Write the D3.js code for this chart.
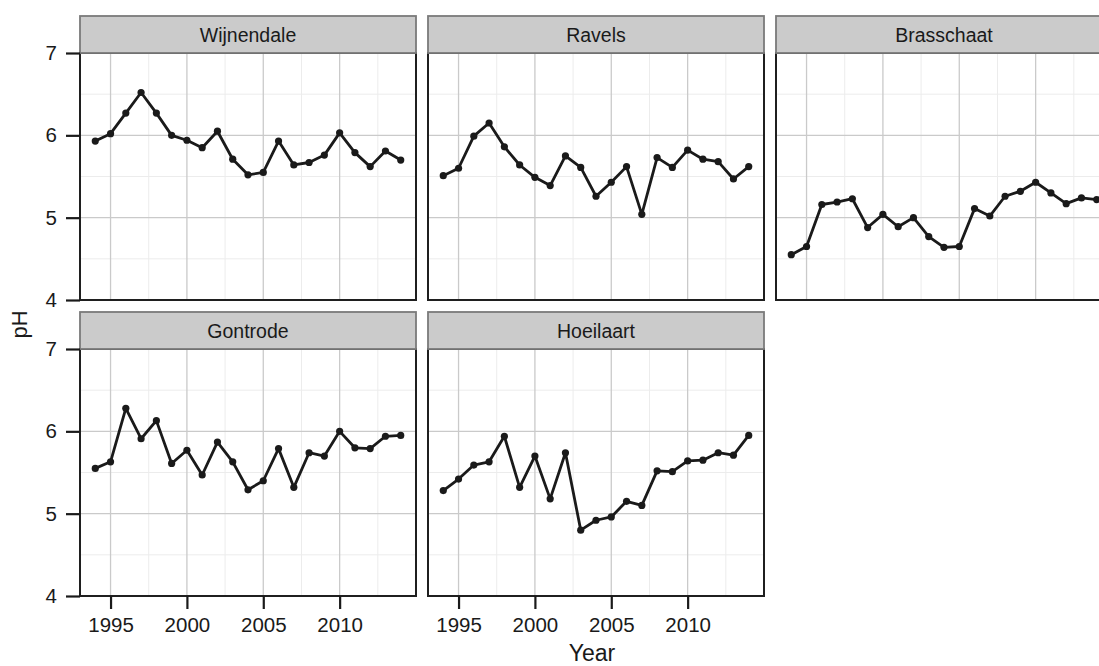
<!DOCTYPE html>
<html lang="en">
<head>
    <meta charset="UTF-8">
    <title>pH per site</title>
    <script src="https://d3js.org/d3.v7.min.js"></script>
    <style>
        body {
            margin: 0;
            background: #fff;
            font-family: "Liberation Sans", Arial, sans-serif;
        }
    </style>
</head>
<body>
<div id="my_dataviz"></div>
<script>
    // data, one array per site
    var years = [1994, 1995, 1996, 1997, 1998, 1999, 2000, 2001, 2002, 2003, 2004,
                 2005, 2006, 2007, 2008, 2009, 2010, 2011, 2012, 2013, 2014];
    var sites = ["Wijnendale", "Ravels", "Brasschaat", "Gontrode", "Hoeilaart"];

    var wijnendale = [5.93, 6.02, 6.27, 6.52, 6.27, 6.00, 5.94, 5.85, 6.05, 5.71, 5.52,
                      5.55, 5.93, 5.64, 5.67, 5.76, 6.03, 5.79, 5.62, 5.81, 5.70];
    var ravels     = [5.51, 5.60, 5.99, 6.15, 5.86, 5.64, 5.49, 5.39, 5.75, 5.61, 5.26,
                      5.43, 5.62, 5.04, 5.73, 5.61, 5.82, 5.71, 5.68, 5.47, 5.62];
    var brasschaat = [4.55, 4.65, 5.16, 5.19, 5.23, 4.88, 5.04, 4.89, 5.00, 4.77, 4.64,
                      4.65, 5.11, 5.02, 5.26, 5.32, 5.43, 5.30, 5.17, 5.24, 5.22];
    var gontrode   = [5.55, 5.63, 6.28, 5.91, 6.13, 5.61, 5.77, 5.47, 5.87, 5.63, 5.29,
                      5.40, 5.79, 5.32, 5.74, 5.70, 6.00, 5.80, 5.79, 5.94, 5.95];
    var hoeilaart  = [5.28, 5.42, 5.59, 5.63, 5.94, 5.32, 5.70, 5.18, 5.74, 4.80, 4.92,
                      4.96, 5.15, 5.10, 5.52, 5.51, 5.64, 5.65, 5.74, 5.71, 5.95];

    var xTicks = [1995, 2000, 2005, 2010];
    var yTicks = [4, 5, 6, 7];
    var xDomain = [1993, 2015];
    var yDomain = [4, 7];

    var seriesList = [wijnendale, ravels, brasschaat, gontrode, hoeilaart];

    // layout of the facets
    var width = 1099, height = 666,
        panelW = 336, panelH = 247, stripH = 37,
        colLeft = [80, 428, 776],
        rowTop = [53, 349];

    var svg = d3.select("#my_dataviz")
        .append("svg")
        .attr("width", width)
        .attr("height", height)
        .style("display", "block");

    var x = d3.scaleLinear().domain(xDomain).range([0, panelW]);
    var y = d3.scaleLinear().domain(yDomain).range([panelH, 0]);

    // minor grid sits halfway between major ticks
    var xMinor = xTicks.map(function(t) { return t + 2.5; });
    var yMinor = yTicks.slice(0, -1).map(function(t) { return t + 0.5; });

    var line = d3.line()
        .x(function(d) { return x(d.year); })
        .y(function(d) { return y(d.ph); });

    sites.forEach(function(site, i) {
        var col = i % 3, row = Math.floor(i / 3);
        var g = svg.append("g")
            .attr("transform", "translate(" + colLeft[col] + "," + rowTop[row] + ")");

        var data = years.map(function(yr, j) { return {year: yr, ph: seriesList[i][j]}; });

        g.append("rect")
            .attr("width", panelW).attr("height", panelH)
            .attr("fill", "#fff");

        // minor grid
        g.selectAll(".xminor").data(xMinor).enter().append("line")
            .attr("x1", function(d) { return x(d); }).attr("x2", function(d) { return x(d); })
            .attr("y1", 0).attr("y2", panelH)
            .attr("stroke", "#ececec").attr("stroke-width", 1);
        g.selectAll(".yminor").data(yMinor).enter().append("line")
            .attr("x1", 0).attr("x2", panelW)
            .attr("y1", function(d) { return y(d); }).attr("y2", function(d) { return y(d); })
            .attr("stroke", "#ececec").attr("stroke-width", 1);

        // major grid
        g.selectAll(".xmajor").data(xTicks).enter().append("line")
            .attr("x1", function(d) { return x(d); }).attr("x2", function(d) { return x(d); })
            .attr("y1", 0).attr("y2", panelH)
            .attr("stroke", "#cacaca").attr("stroke-width", 1.3);
        g.selectAll(".ymajor").data(yTicks).enter().append("line")
            .attr("x1", 0).attr("x2", panelW)
            .attr("y1", function(d) { return y(d); }).attr("y2", function(d) { return y(d); })
            .attr("stroke", "#cacaca").attr("stroke-width", 1.3);

        // the series
        g.append("path")
            .datum(data)
            .attr("fill", "none")
            .attr("stroke", "#1a1a1a")
            .attr("stroke-width", 2.8)
            .attr("stroke-linejoin", "round")
            .attr("d", line);

        g.selectAll("circle").data(data).enter().append("circle")
            .attr("cx", function(d) { return x(d.year); })
            .attr("cy", function(d) { return y(d.ph); })
            .attr("r", 3.6)
            .attr("fill", "#1a1a1a");

        // panel border
        g.append("rect")
            .attr("width", panelW).attr("height", panelH)
            .attr("fill", "none")
            .attr("stroke", "#1f1f1f").attr("stroke-width", 2);

        // strip on top
        g.append("rect")
            .attr("y", -stripH).attr("width", panelW).attr("height", stripH)
            .attr("fill", "#cbcbcb")
            .attr("stroke", "#7a7a7a").attr("stroke-width", 1.8);
        g.append("text")
            .attr("x", panelW / 2).attr("y", -stripH / 2)
            .attr("text-anchor", "middle")
            .attr("dominant-baseline", "central")
            .style("font-size", "19.5px")
            .attr("fill", "#1a1a1a")
            .text(site);

        // axes only on the outer panels
        if (col === 0) {
            var ya = g.append("g")
                .call(d3.axisLeft(y).tickValues(yTicks).tickSize(14).tickPadding(9).tickFormat(d3.format("d")));
            ya.select(".domain").remove();
            ya.selectAll(".tick line").attr("stroke", "#1a1a1a").attr("stroke-width", 2.2);
            ya.selectAll(".tick text")
                .attr("fill", "#1a1a1a")
                .style("font-size", "20.5px")
                .style("font-family", "'Liberation Sans', Arial, sans-serif");
        }
        if (row === 1) {
            var xa = g.append("g")
                .attr("transform", "translate(0," + panelH + ")")
                .call(d3.axisBottom(x).tickValues(xTicks).tickSize(13).tickPadding(8).tickFormat(d3.format("d")));
            xa.select(".domain").remove();
            xa.selectAll(".tick line").attr("stroke", "#1a1a1a").attr("stroke-width", 2.2);
            xa.selectAll(".tick text")
                .attr("fill", "#1a1a1a")
                .style("font-size", "20.5px")
                .style("font-family", "'Liberation Sans', Arial, sans-serif");
        }
    });

    // axis titles
    svg.append("text")
        .attr("x", (colLeft[0] + colLeft[2] + panelW) / 2 - 4)
        .attr("y", 661)
        .attr("text-anchor", "middle")
        .style("font-size", "23px")
        .attr("fill", "#1a1a1a")
        .text("Year");

    svg.append("text")
        .attr("transform", "translate(27," + (rowTop[0] + rowTop[1] + panelH) / 2 + ") rotate(-90)")
        .attr("text-anchor", "middle")
        .style("font-size", "22px")
        .attr("fill", "#1a1a1a")
        .text("pH");
</script>
</body>
</html>
